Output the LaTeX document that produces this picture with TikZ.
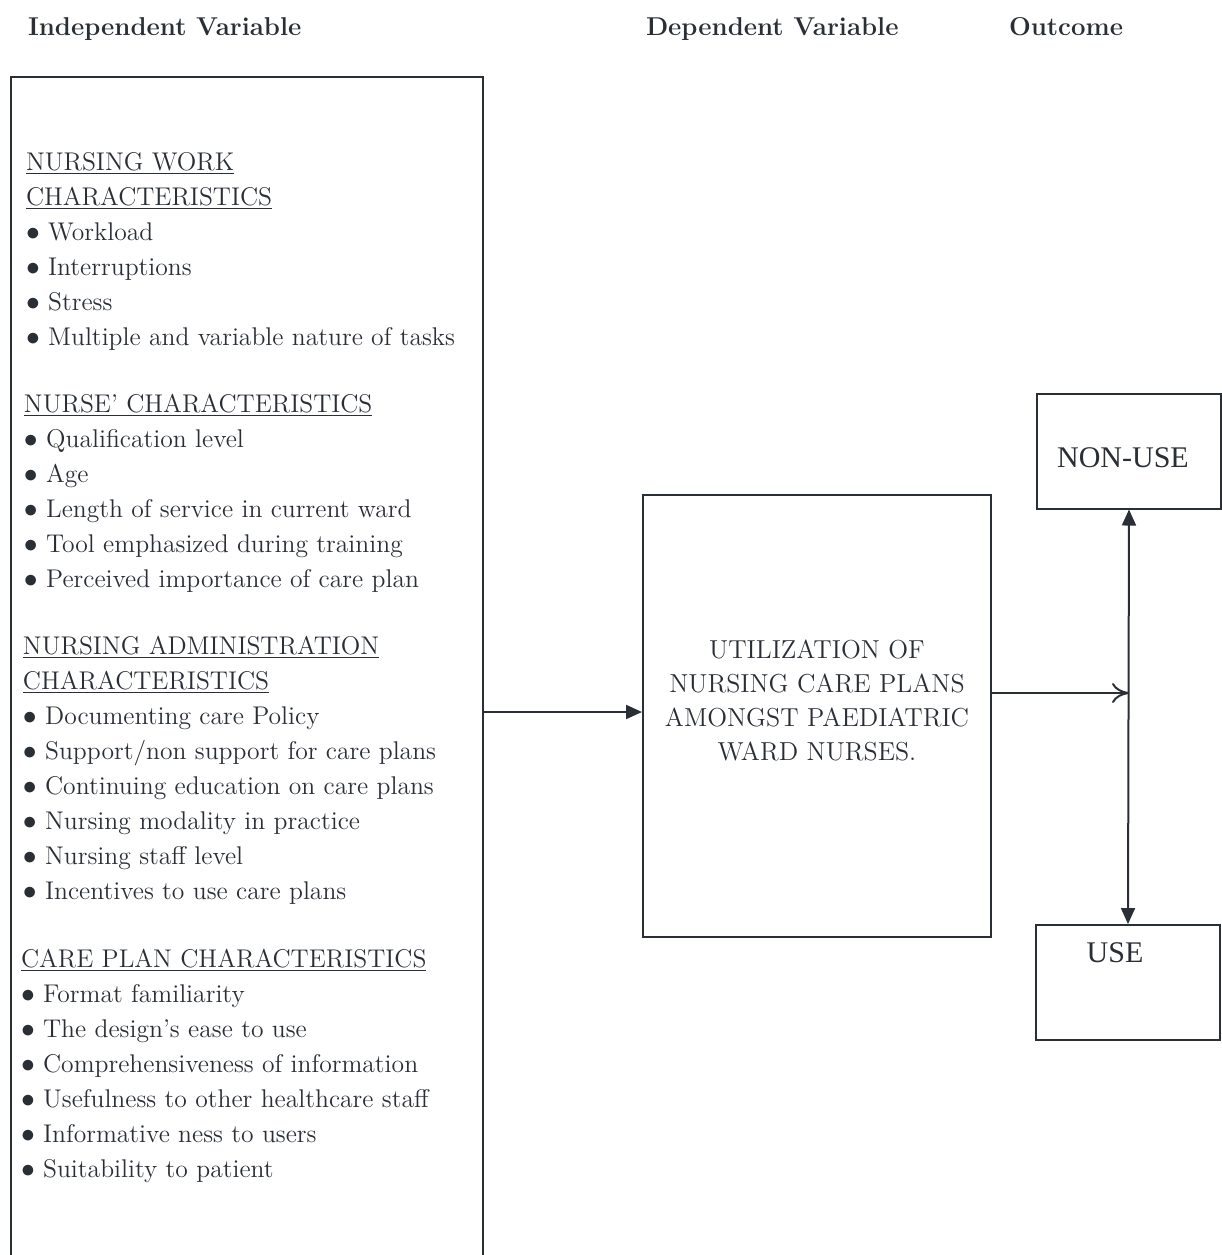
\documentclass[tikz,border=0pt]{standalone}
\usepackage{fontspec}
\usepackage{tikz}
\usetikzlibrary{arrows.meta}
\usepackage{xcolor}
\definecolor{ink}{HTML}{2A2F36}
\newfontfamily\timesfont{Liberation Serif}
\newcommand{\bul}{\raisebox{-0.2pt}{\scalebox{1.15}{$\bullet$}}\ }

\begin{document}
\begin{tikzpicture}[x=0.5pt,y=-0.5pt,>={Triangle[length=8pt,width=7pt]},
  line width=1pt,draw=ink,text=ink,
  every node/.style={font=\fontsize{12.8}{17.5}\selectfont},
  head/.style={anchor=base west,inner sep=0pt,font=\fontsize{12.9}{14}\selectfont\bfseries},
  sect/.style={anchor=base west,align=left,inner sep=0pt},
  outbox/.style={draw,minimum width=92pt,minimum height=57.5pt,inner sep=0pt},
  outtxt/.style={font=\timesfont\fontsize{15}{17}\selectfont}]
  \clip (0,0) rectangle (1222,1255);
  \node[head] (ivhead) at (27,35) {Independent Variable};
  \node[head] (dvhead) at (645,35) {Dependent Variable};
  \node[head] (outhead) at (1008,35) {Outcome};
  % independent variables (base anchor sits on the last line)
  \node[draw,minimum width=236pt,minimum height=611.5pt,inner sep=0pt] (ivbox) at (247,688.5) {};
  \node[sect] (work) at (25,345) {\underline{NURSING WORK}\\ \underline{CHARACTERISTICS}\\
    \bul Workload\\ \bul Interruptions\\ \bul Stress\\ \bul Multiple and variable nature of tasks};
  \node[sect] (nurse) at (23,587) {\underline{NURSE' CHARACTERISTICS}\\
    \bul Qualification level\\ \bul Age\\ \bul Length of service in current ward\\
    \bul Tool emphasized during training\\ \bul Perceived importance of care plan};
  \node[sect] (admin) at (22,899) {\underline{NURSING ADMINISTRATION}\\ \underline{CHARACTERISTICS}\\
    \bul Documenting care Policy\\ \bul Support/non support for care plans\\
    \bul Continuing education on care plans\\ \bul Nursing modality in practice\\
    \bul Nursing staff level\\ \bul Incentives to use care plans};
  \node[sect] (plan) at (20,1177) {\underline{CARE PLAN CHARACTERISTICS}\\
    \bul Format familiarity\\ \bul The design's ease to use\\ \bul Comprehensiveness of information\\
    \bul Usefulness to other healthcare staff\\ \bul Informative ness to users\\ \bul Suitability to patient};
  % dependent variable
  \node[draw,minimum width=174pt,minimum height=221pt,inner sep=0pt] (util) at (817,716) {};
  \node[align=center,font=\fontsize{13}{17}\selectfont] (utiltxt) at (817,700)
    {UTILIZATION OF\\ NURSING CARE PLANS\\ AMONGST PAEDIATRIC\\ WARD NURSES.};
  % outcomes
  \node[outbox] (nonuse) at (1129,451) {};
  \node[outtxt] (nonusetxt) at (1123,458) {NON-USE};
  \node[outbox] (use) at (1128,982.5) {};
  \node[outtxt] (usetxt) at (1115,953) {USE};
  \coordinate (split) at (nonuse.south |- 0,693);
  \coordinate (feed) at (util.west |- 0,712);
  \draw[->] (ivbox.east |- feed) -- (feed);
  \draw[-{To[length=8.5pt,width=10pt]}] (util.east |- split) -- (split);
  \draw[<->] (nonuse.south) -- (use.north);
\end{tikzpicture}
\end{document}
